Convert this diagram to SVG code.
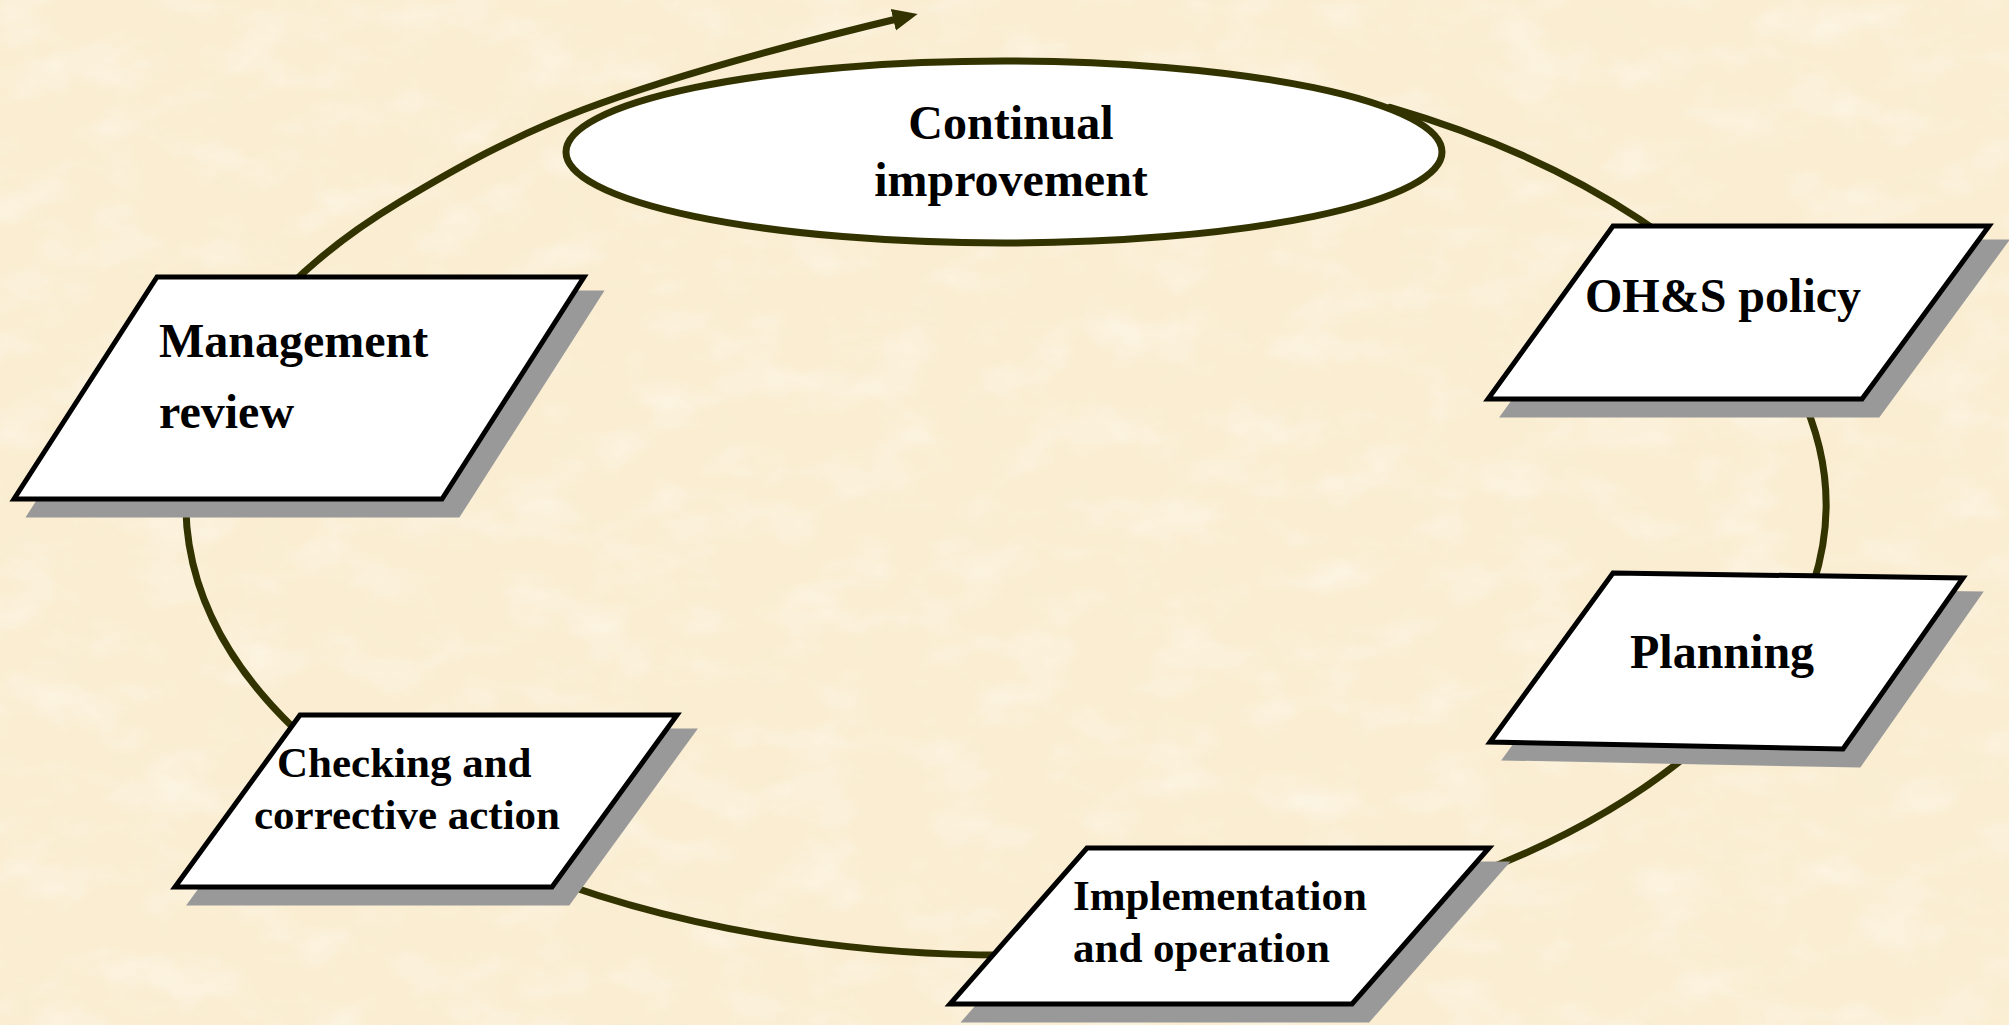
<svg xmlns="http://www.w3.org/2000/svg" xmlns:xlink="http://www.w3.org/1999/xlink" width="2009" height="1025" viewBox="0 0 2009 1025">
  <style>
    .lbl { font-family: "Liberation Serif", "Times New Roman", serif; font-weight: bold; fill: #000; }
    .big { font-size: 48px; }
    .small { font-size: 43px; }
    .box { fill: #ffffff; stroke: #000000; stroke-width: 5; stroke-linejoin: miter; }
    .shadow { fill: #999999; stroke: #999999; stroke-width: 5; }
    .loop { fill: none; stroke: #333300; stroke-width: 7; stroke-linecap: round; }
  </style>
  <defs>
    <filter id="mottle" x="0" y="0" width="100%" height="100%">
      <feTurbulence type="fractalNoise" baseFrequency="0.014 0.022" numOctaves="4" seed="11" result="noise"/>
      <feColorMatrix in="noise" type="matrix" values="0 0 0 0 1  0 0 0 0 0.98  0 0 0 0 0.93  2.2 0 0 0 -1.0"/>
    </filter>
    <filter id="mottleDark" x="0" y="0" width="100%" height="100%">
      <feTurbulence type="fractalNoise" baseFrequency="0.02 0.035" numOctaves="3" seed="4" result="noise"/>
      <feColorMatrix in="noise" type="matrix" values="0 0 0 0 0.92  0 0 0 0 0.85  0 0 0 0 0.68  2.2 0 0 0 -1.1"/>
    </filter>
    <marker id="arrowHead" markerUnits="userSpaceOnUse" markerWidth="30" markerHeight="30" refX="12" refY="0" viewBox="0 -15 30 30" orient="auto">
      <path d="M0,-11 L25,0 L0,11 z" fill="#333300"/>
    </marker>
    <!-- node outlines (stroke centre lines) -->
    <polygon id="shpManagement" points="157,277 584,277 442,499 14,499"/>
    <polygon id="shpPolicy" points="1613,226 1989,226 1862,399 1488,399"/>
    <polygon id="shpPlanning" points="1613,573 1963,578 1843,749 1490,742"/>
    <polygon id="shpImplementation" points="1087,848 1489,848 1352,1004 950,1004"/>
    <polygon id="shpChecking" points="300,715 677,715 552,887 175,887"/>
  </defs>

  <!-- parchment background -->
  <rect x="0" y="0" width="2009" height="1025" fill="#faedd1"/>
  <rect x="0" y="0" width="2009" height="1025" filter="url(#mottleDark)" opacity="0.2"/>
  <rect x="0" y="0" width="2009" height="1025" filter="url(#mottle)" opacity="0.45"/>

  <!-- cycle line, ending in the arrow at the top -->
  <g id="connectors">
    <path id="cycle" class="loop" marker-end="url(#arrowHead)"
          d="M 1390,107.4 A 820 450 0 1 1 400,201.8 C 520,130 600,90 905,17"/>
  </g>

  <g id="continual-improvement">
    <ellipse cx="1004" cy="152" rx="438" ry="91" fill="#ffffff" stroke="#333300" stroke-width="7"/>
    <text class="lbl big" x="1011" y="139" text-anchor="middle">Continual</text>
    <text class="lbl big" x="1011" y="196" text-anchor="middle">improvement</text>
  </g>

  <g id="ohs-policy">
    <use xlink:href="#shpPolicy" class="shadow" transform="translate(16,16)"/>
    <use xlink:href="#shpPolicy" class="box"/>
    <text class="lbl big" x="1585" y="312">OH&amp;S policy</text>
  </g>

  <g id="planning">
    <use xlink:href="#shpPlanning" class="shadow" transform="translate(16,16)"/>
    <use xlink:href="#shpPlanning" class="box"/>
    <text class="lbl big" x="1630" y="668">Planning</text>
  </g>

  <g id="implementation-operation">
    <use xlink:href="#shpImplementation" class="shadow" transform="translate(16,16)"/>
    <use xlink:href="#shpImplementation" class="box"/>
    <text class="lbl small" x="1073" y="910">Implementation</text>
    <text class="lbl small" x="1073" y="962">and operation</text>
  </g>

  <g id="checking-corrective-action">
    <use xlink:href="#shpChecking" class="shadow" transform="translate(16,16)"/>
    <use xlink:href="#shpChecking" class="box"/>
    <text class="lbl small" x="277" y="777">Checking and</text>
    <text class="lbl small" x="254" y="829">corrective action</text>
  </g>

  <g id="management-review">
    <use xlink:href="#shpManagement" class="shadow" transform="translate(16,16)"/>
    <use xlink:href="#shpManagement" class="box"/>
    <text class="lbl big" x="159" y="357">Management</text>
    <text class="lbl big" x="159" y="428">review</text>
  </g>
</svg>
